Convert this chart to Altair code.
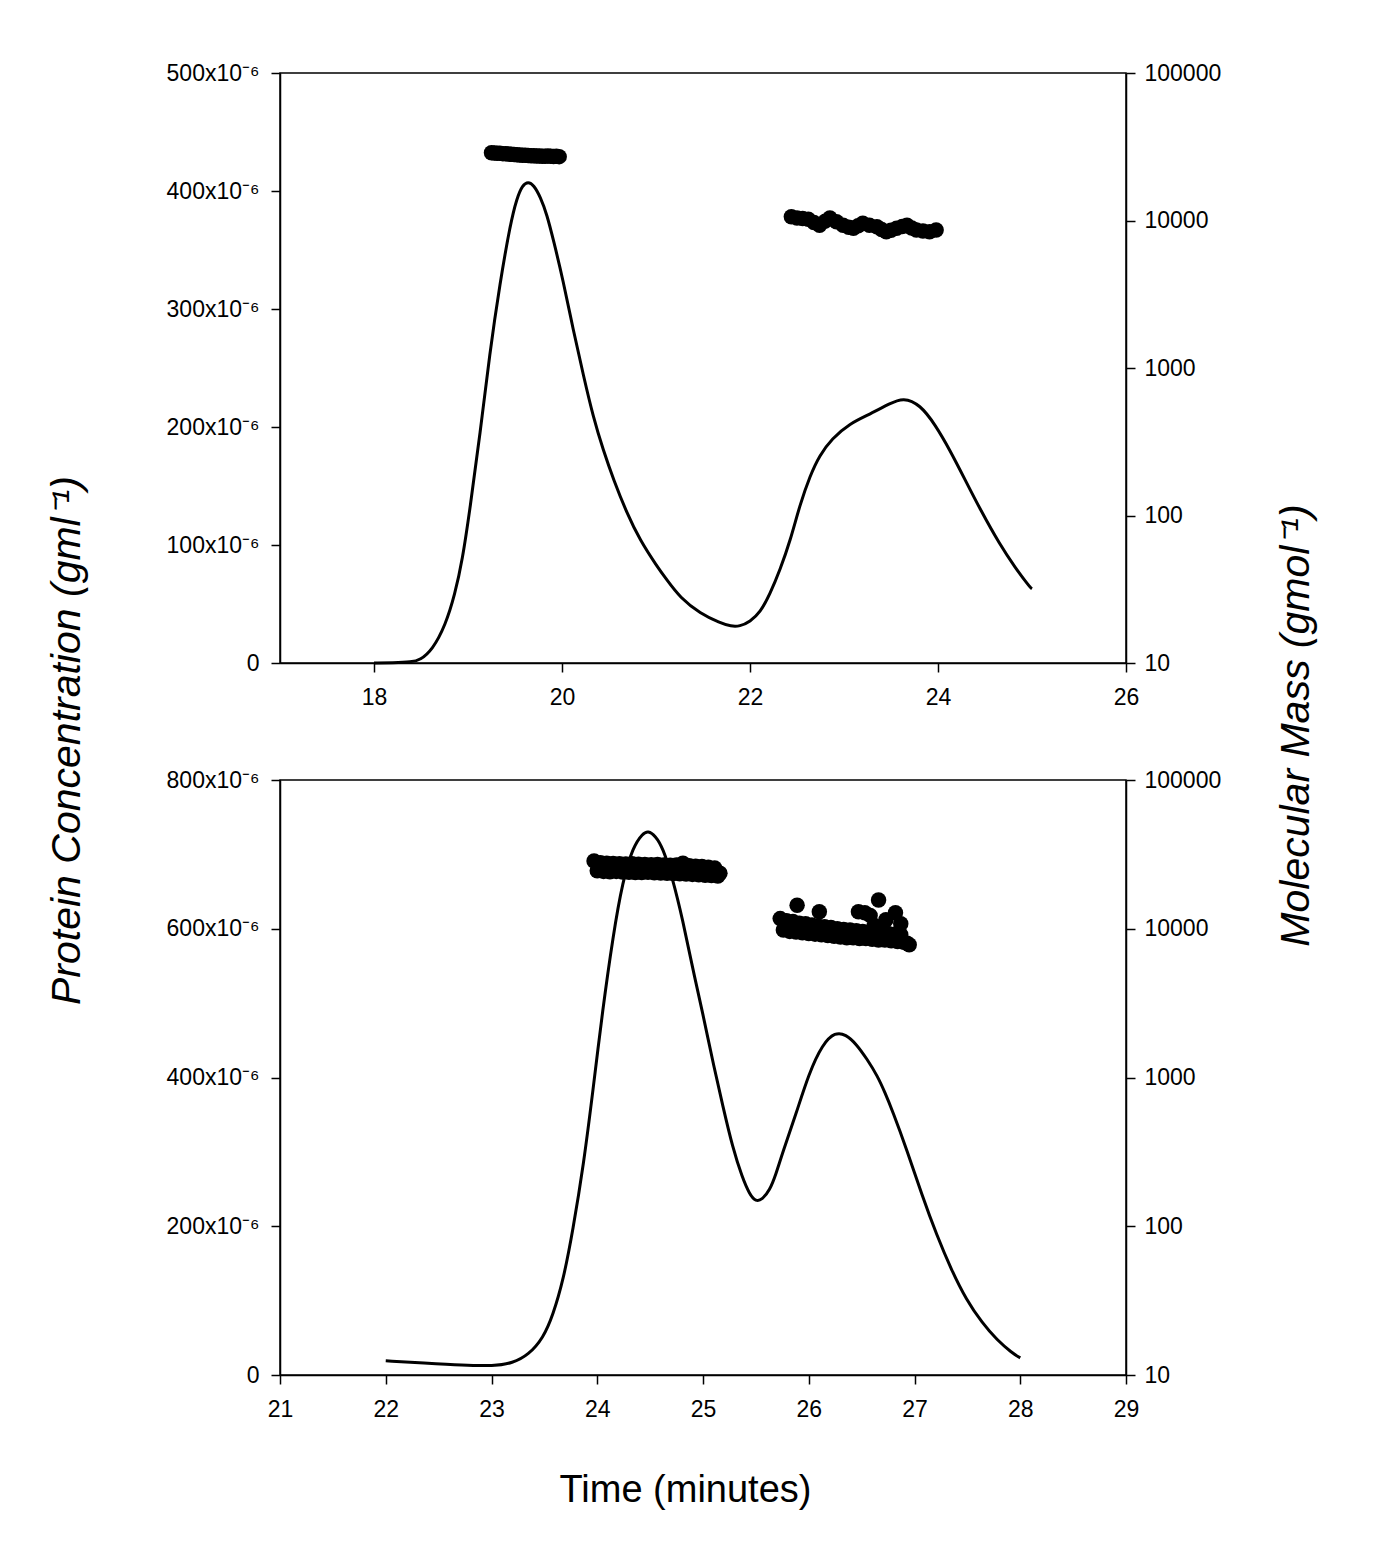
import altair as alt
import pandas as pd

# ---------------- Top panel data ----------------
# Protein concentration (units of 1e-6 g/ml) vs time (minutes)
top_line_t = [18.0, 18.2, 18.4, 18.49, 18.62, 18.76, 18.86, 18.94, 19.02, 19.13, 19.23, 19.34, 19.45, 19.52,
              19.58, 19.64, 19.70, 19.77, 19.84, 19.91, 20.01, 20.12, 20.23, 20.33, 20.44, 20.55, 20.69,
              20.83, 21.01, 21.11, 21.26, 21.47, 21.68, 21.80, 21.89, 22.0, 22.11, 22.21, 22.32, 22.43,
              22.53, 22.64, 22.74, 22.87, 23.06, 23.28, 23.49, 23.63, 23.81, 23.97, 24.13, 24.29, 24.45,
              24.66, 24.82, 24.98, 25.0]
top_line_c = [0.0, 0.2, 0.8, 2.5, 11, 32, 58, 87, 130, 195, 262, 322, 372, 394,
              405, 408, 405, 395, 380, 358, 325, 282, 243, 209, 180, 155, 127,
              104, 82, 71, 55, 42, 34, 31, 31, 35, 43, 58, 79, 104,
              134, 159, 176, 190, 203, 211, 220, 225, 219, 202, 180, 155, 130,
              100, 81, 64, 63]

# Molecular mass (g/mol) vs time (minutes)
top_pts_t = [19.25, 19.28, 19.31, 19.34, 19.37, 19.40, 19.43, 19.46, 19.49, 19.52, 19.55, 19.58, 19.61,
             19.64, 19.67, 19.70, 19.73, 19.76, 19.79, 19.82, 19.85, 19.88, 19.91, 19.94, 19.97,
             22.44, 22.50, 22.56, 22.62, 22.68, 22.74, 22.80, 22.85, 22.92, 22.99, 23.05, 23.10, 23.15,
             23.20, 23.27, 23.35, 23.40, 23.45, 23.50, 23.56, 23.62, 23.67, 23.72, 23.77, 23.84, 23.91,
             23.98]
top_pts_m = [28800, 28700, 28600, 28600, 28400, 28300, 28200, 28100, 28000, 27900, 27800, 27700, 27700,
             27600, 27500, 27500, 27400, 27400, 27300, 27300, 27400, 27300, 27200, 27300, 27100,
             10600, 10400, 10300, 10200, 9700, 9300, 9900, 10400, 9800, 9300, 9000, 8850, 9200,
             9570, 9300, 9080, 8700, 8390, 8600, 8850, 9100, 9300, 8900, 8630, 8500, 8390,
             8630]

# ---------------- Bottom panel data ----------------
bot_line_t = [22.0, 22.36, 22.73, 23.02, 23.2, 23.35, 23.49, 23.58, 23.68, 23.77, 23.87, 23.96, 24.05,
              24.15, 24.24, 24.34, 24.43, 24.48, 24.55, 24.62, 24.71, 24.81, 24.90, 25.00, 25.09, 25.19,
              25.28, 25.37, 25.44, 25.50, 25.56, 25.63, 25.69, 25.75, 25.88, 26.00, 26.13, 26.25, 26.35,
              26.45, 26.55, 26.65, 26.72, 26.79, 26.93, 27.07, 27.21, 27.35, 27.49, 27.64, 27.78, 27.92,
              28.0]
bot_line_c = [19, 16, 13, 12, 16, 27, 50, 80, 128, 195, 282, 383, 490,
              591, 664, 711, 728, 732, 725, 709, 669, 611, 548, 485, 423, 360,
              306, 266, 243, 233, 236, 248, 270, 298, 351, 405, 445, 461, 458,
              445, 425, 402, 380, 356, 302, 242, 188, 141, 101, 70, 47, 30,
              23]

bot_pts_t = [23.97, 24.00, 24.03, 24.06, 24.09, 24.12, 24.15, 24.18, 24.21, 24.24, 24.27, 24.30, 24.33,
             24.36, 24.39, 24.42, 24.45, 24.48, 24.51, 24.54, 24.57, 24.60, 24.63, 24.66, 24.69, 24.72,
             24.75, 24.78, 24.81, 24.84, 24.87, 24.90, 24.93, 24.96, 24.99, 25.02, 25.05, 25.08, 25.11,
             25.14, 25.16,
             25.73, 25.76, 25.79, 25.82, 25.85, 25.88, 25.91, 25.94, 25.97, 26.00, 26.03, 26.06, 26.09,
             26.12, 26.15, 26.18, 26.21, 26.24, 26.27, 26.30, 26.33, 26.36, 26.39, 26.42, 26.45, 26.48,
             26.51, 26.54, 26.57, 26.60, 26.63, 26.66, 26.69, 26.72, 26.75, 26.78, 26.81, 26.84, 26.87,
             26.90, 26.93, 26.95,
             25.89, 26.10, 26.47, 26.53, 26.58, 26.66, 26.73, 26.82, 26.62, 26.87]
bot_pts_m = [28500, 24500, 27800, 24300, 27600, 24200, 27500, 24300, 27300, 24100, 27200, 24000, 27300,
             23900, 27100, 23900, 27000, 24000, 26900, 23800, 27000, 23700, 26800, 23600, 26700, 23500,
             26800, 23400, 27600, 23300, 26500, 23200, 26300, 23100, 26200, 22900, 25900, 22800, 25600,
             22600, 23600,
             11700, 9800, 11300, 9600, 11200, 9500, 10900, 9400, 10800, 9300, 10600, 9200, 10400,
             9100, 10300, 9000, 10200, 8900, 10000, 8800, 9900, 8700, 9800, 8700, 9700, 8600,
             9600, 8600, 9500, 8500, 9500, 8400, 9400, 8400, 9300, 8300, 9200, 8200, 9100,
             8100, 8000, 7800,
             14400, 13000, 13000, 12800, 12300, 15600, 11500, 12800, 10500, 10800]

FONT = "Liberation Sans"
W = 846
SUP6 = "x10\u207b\u2076"


def panel(line_t, line_c, pts_t, pts_m, xdom, xvals, cdom, cvals, h,
          left_title=None, right_title=None, x_title=None):
    df_line = pd.DataFrame({"t": line_t, "c": line_c})
    df_pts = pd.DataFrame({"t": pts_t, "m": pts_m})

    xargs = dict(values=xvals, tickSize=9, labelPadding=14, grid=False, labelFlush=False)
    if x_title:
        xargs.update(title=x_title, titleX=405, titleY=115, titleAlign="center",
                     titleBaseline="middle", titleFontSize=38)
    else:
        xargs.update(title=None)
    xaxis = alt.Axis(**xargs)
    xscale = alt.Scale(domain=xdom, nice=False, zero=False)

    largs = dict(values=cvals, tickSize=9, labelPadding=12, grid=False,
                 labelExpr="datum.value == 0 ? '0' : datum.value + '" + SUP6 + "'")
    if left_title:
        largs.update(title=left_title, titleAngle=270, titleX=-213, titleY=667,
                     titleAlign="center", titleBaseline="middle", titleFontStyle="italic",
                     titleFontSize=41)
    else:
        largs.update(title=None)

    rargs = dict(orient="right", values=[10, 100, 1000, 10000, 100000], format="d",
                 tickSize=9, labelPadding=9, grid=False)
    if right_title:
        rargs.update(title=right_title, titleAngle=270, titleX=170, titleY=652,
                     titleAlign="center", titleBaseline="middle", titleFontStyle="italic",
                     titleFontSize=41)
    else:
        rargs.update(title=None)

    line = alt.Chart(df_line).mark_line(color="black", strokeWidth=3, interpolate="basis").encode(
        x=alt.X("t:Q", scale=xscale, axis=xaxis),
        y=alt.Y("c:Q", scale=alt.Scale(domain=cdom, nice=False, zero=False), axis=alt.Axis(**largs)),
    )
    pts = alt.Chart(df_pts).mark_circle(color="black", opacity=1, size=240).encode(
        x=alt.X("t:Q", scale=xscale, axis=xaxis),
        y=alt.Y("m:Q", scale=alt.Scale(type="log", domain=[10, 100000], nice=False),
                axis=alt.Axis(**rargs)),
    )
    return alt.layer(line, pts).resolve_scale(y="independent").properties(width=W, height=h)


top = panel(top_line_t, top_line_c, top_pts_t, top_pts_m, [17, 26], [18, 20, 22, 24, 26],
            [0, 500], [0, 100, 200, 300, 400, 500], 590,
            left_title="Protein Concentration (gml\u207b\u00b9)",
            right_title="Molecular Mass (gmol\u207b\u00b9)")
bottom = panel(bot_line_t, bot_line_c, bot_pts_t, bot_pts_m, [21, 29], list(range(21, 30)),
               [0, 800], [0, 200, 400, 600, 800], 595, x_title="Time (minutes)")

chart = alt.vconcat(top, bottom, spacing=117, bounds="flush").properties(
    padding={"left": 37, "top": 53, "right": 10, "bottom": 10},
    background="white",
).configure_view(
    stroke="black", strokeWidth=1.5
).configure_axis(
    labelFont=FONT, labelFontSize=23, labelColor="black",
    titleFont=FONT, titleColor="black", titleFontWeight="normal",
    domainColor="black", domainWidth=1.5, tickColor="black", tickWidth=1.5,
)

chart.save("out.html", embed_options={"renderer": "svg", "actions": False})
